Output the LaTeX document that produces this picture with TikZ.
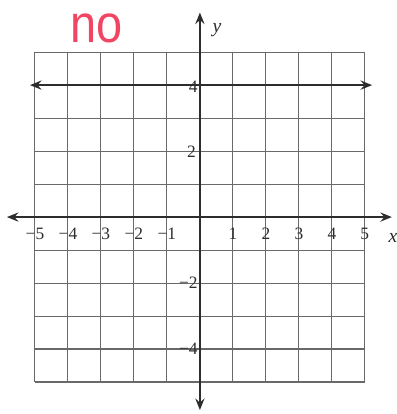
\documentclass[tikz,border=0pt]{standalone}
\usepackage{fontspec}
\setmainfont{Liberation Serif}
\newfontfamily\handfont{Liberation Sans}
\usetikzlibrary{arrows.meta}
\definecolor{gridgray}{RGB}{105,105,105}
\definecolor{axisgray}{RGB}{45,45,45}
\definecolor{inkred}{RGB}{240,70,100}
\tikzset{
  gridline/.style={draw=gridgray, line width=0.9pt},
  axisline/.style={draw=axisgray, line width=1.3pt,
    {Stealth[length=10pt,width=8pt,inset=3.5pt]}-{Stealth[length=10pt,width=8pt,inset=3.5pt]}},
  ticklab/.style={font=\fontsize{15}{15}\selectfont, text=axisgray, inner sep=1pt},
  axlab/.style={font=\fontsize{17}{17}\selectfont\itshape, text=axisgray, inner sep=1pt}
}
\begin{document}
\begin{tikzpicture}[x=1cm,y=1cm]
\useasboundingbox (-6.06,-5.97) rectangle (5.97,6.58);
% grid
\draw[gridline] (-5,-5) grid (5,5);
% axes
\coordinate (xl) at (-5.85,0);
\coordinate (xr) at (5.82,0);
\coordinate (yb) at (0,-5.85);
\coordinate (yt) at (0,6.2);
\coordinate (hl) at (-5.15,4);
\coordinate (hr) at (5.22,4);
\draw[axisline] (xl) -- (xr);
\draw[axisline] (yb) -- (yt);
\draw[axisline] (hl) -- (hr);
% x tick labels
\foreach \v/\t/\n in {-5/−5/xm5,-4/−4/xm4,-3/−3/xm3,-2/−2/xm2,-1/−1/xm1,1/1/xp1,2/2/xp2,3/3/xp3,4/4/xp4,5/5/xp5}
  \node[ticklab] (\n) at (\v,-0.5) {\t};
% y tick labels
\node[ticklab, anchor=east] (yp4) at (-0.03,3.95) {4};
\node[ticklab, anchor=east] (yp2) at (-0.08,1.97) {2};
\node[ticklab, anchor=east] (ym2) at (-0.03,-2.0) {−2};
\node[ticklab, anchor=east] (ym4) at (-0.03,-4.0) {−4};
% axis labels
\node[axlab] (xlab) at (5.85,-0.62) {x};
\node[axlab] (ylab) at (0.52,5.67) {y};
% handwritten note
\node[text=inkred, font=\handfont\fontsize{46}{46}\selectfont, xscale=0.88, anchor=base, inner sep=0pt] (note) at (-3.12,5.28) {no};
\end{tikzpicture}
\end{document}
